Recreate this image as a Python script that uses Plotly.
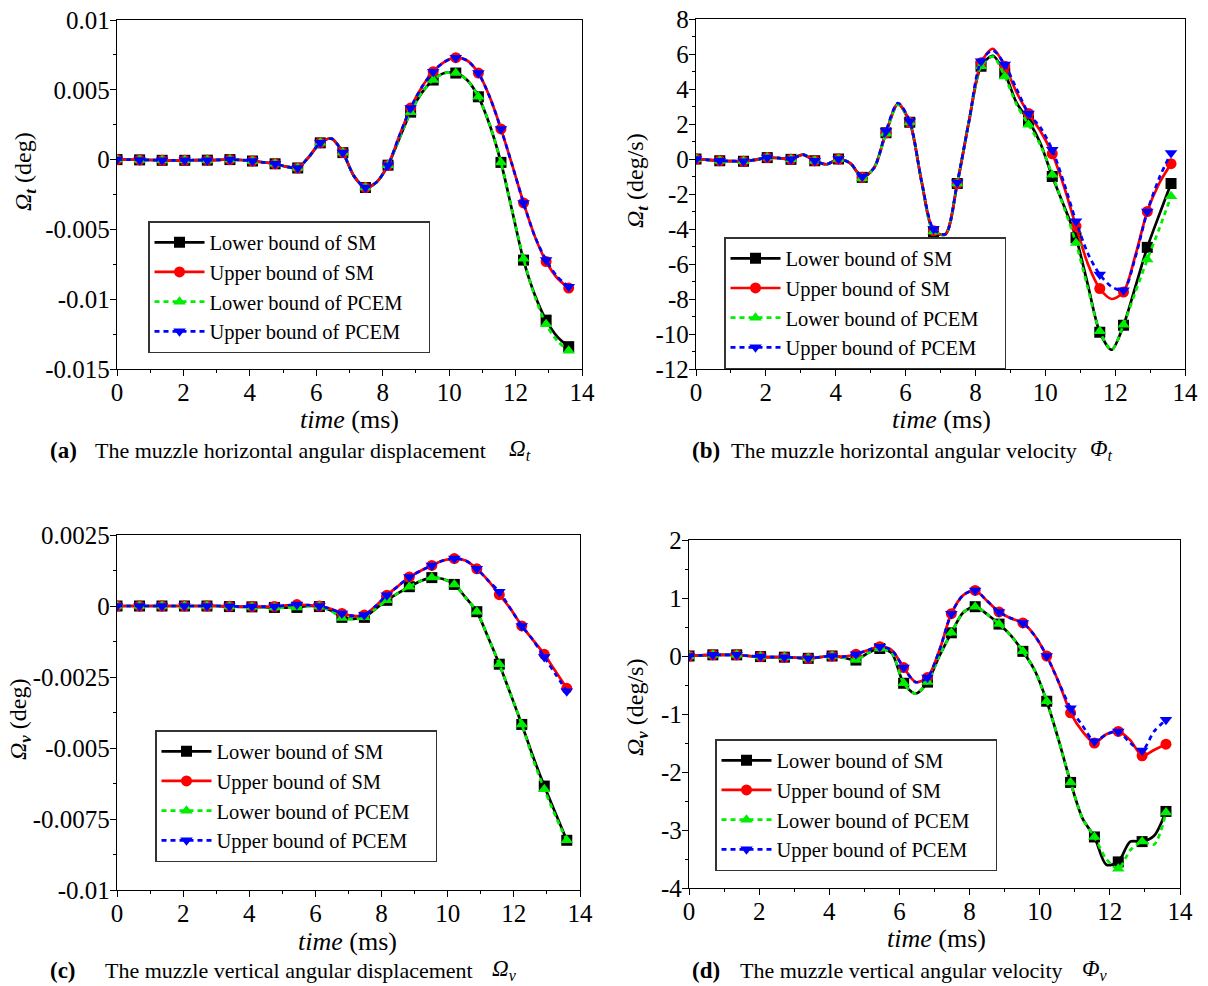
import plotly.graph_objects as go

# ---------------- data ----------------
t = [0.0, 0.34, 0.68, 1.02, 1.36, 1.70, 2.04, 2.38, 2.72, 3.06, 3.40, 3.74, 4.08, 4.42,
     4.76, 5.10, 5.44, 5.78, 6.12, 6.46, 6.80, 7.14, 7.48, 7.82, 8.16, 8.50, 8.84, 9.18,
     9.52, 9.86, 10.20, 10.54, 10.88, 11.22, 11.56, 11.90, 12.24, 12.58, 12.92, 13.26, 13.60]

series_names = ["Lower bound of SM", "Upper bound of SM", "Lower bound of PCEM", "Upper bound of PCEM"]

# (a) muzzle horizontal angular displacement (deg)
a_sm_lo = [0, 0, -0.00002, -0.00003, -0.00005, -0.00005, -0.00005, -0.00004, -0.00004, -0.00002, 0.0,
           -0.00003, -0.0001, -0.0002, -0.0003, -0.0005, -0.0006, 0.0002, 0.0012, 0.0015, 0.0005,
           -0.0012, -0.0020, -0.0016, -0.0004, 0.0015, 0.0034, 0.0048, 0.0057, 0.0062, 0.0062,
           0.0057, 0.0045, 0.0025, -0.0002, -0.0037, -0.0072, -0.0097, -0.0115, -0.0127, -0.0134]
a_sm_up = [0, 0, -0.00002, -0.00003, -0.00005, -0.00005, -0.00005, -0.00004, -0.00004, -0.00002, 0.0,
           -0.00003, -0.0001, -0.0002, -0.0003, -0.0005, -0.0006, 0.0002, 0.0012, 0.0015, 0.0005,
           -0.0012, -0.0020, -0.0016, -0.0004, 0.0017, 0.0037, 0.0052, 0.0063, 0.0070, 0.0073,
           0.0071, 0.0062, 0.0045, 0.0022, -0.0004, -0.0031, -0.0055, -0.0073, -0.0085, -0.0092]
a_pc_lo = [0, 0, -0.00002, -0.00003, -0.00005, -0.00005, -0.00005, -0.00004, -0.00004, -0.00002, 0.0,
           -0.00003, -0.0001, -0.0002, -0.0003, -0.0005, -0.0006, 0.0002, 0.0012, 0.0015, 0.0005,
           -0.0012, -0.0020, -0.0016, -0.0004, 0.0015, 0.0034, 0.0048, 0.0057, 0.0062, 0.0062,
           0.0057, 0.0045, 0.0025, -0.0002, -0.0037, -0.0071, -0.0098, -0.0118, -0.0130, -0.0137]
a_pc_up = [0, 0, -0.00002, -0.00003, -0.00005, -0.00005, -0.00005, -0.00004, -0.00004, -0.00002, 0.0,
           -0.00003, -0.0001, -0.0002, -0.0003, -0.0005, -0.0006, 0.0002, 0.0012, 0.0015, 0.0005,
           -0.0012, -0.0020, -0.0016, -0.0004, 0.0017, 0.0037, 0.0052, 0.0063, 0.0070, 0.0073,
           0.0071, 0.0062, 0.0045, 0.0022, -0.0004, -0.0031, -0.0055, -0.0072, -0.0084, -0.0091]

# (b) muzzle horizontal angular velocity (deg/s)
b_sm_lo = [0, -0.05, -0.1, -0.12, -0.13, -0.05, 0.08, 0.05, -0.02, 0.25, -0.1, -0.3, 0.0, -0.25,
           -1.05, -0.5, 1.5, 3.15, 2.1, -1.3, -4.15, -4.3, -1.4, 2.2, 5.3, 5.9, 4.9, 3.2, 2.2,
           0.9, -1.0, -2.7, -4.5, -7.2, -9.9, -10.9, -9.5, -7.3, -5.05, -3.2, -1.4]
b_sm_up = [0, -0.05, -0.1, -0.12, -0.13, -0.05, 0.08, 0.05, -0.02, 0.25, -0.1, -0.3, 0.0, -0.25,
           -1.05, -0.5, 1.5, 3.15, 2.1, -1.3, -4.1, -4.3, -1.4, 2.2, 5.5, 6.3, 5.3, 3.8, 2.6,
           1.6, 0.3, -1.6, -3.85, -6.0, -7.4, -8.0, -7.6, -5.5, -3.0, -1.4, -0.27]
b_pc_lo = [0, -0.05, -0.1, -0.12, -0.13, -0.05, 0.08, 0.05, -0.02, 0.25, -0.1, -0.3, 0.0, -0.25,
           -1.1, -0.5, 1.45, 3.1, 2.1, -1.3, -4.15, -4.3, -1.4, 2.2, 5.3, 5.85, 4.72, 3.1, 1.96,
           0.8, -0.9, -2.8, -4.8, -7.4, -9.85, -10.9, -9.47, -7.6, -5.75, -4.0, -2.13]
b_pc_up = [0, -0.05, -0.1, -0.12, -0.13, -0.05, 0.08, 0.05, -0.02, 0.25, -0.1, -0.3, 0.0, -0.25,
           -1.0, -0.5, 1.6, 3.2, 2.15, -1.3, -4.0, -4.3, -1.35, 2.2, 5.58, 6.2, 5.4, 4.0, 2.6,
           1.8, 0.53, -1.4, -3.56, -5.4, -6.6, -7.3, -7.5, -5.6, -3.0, -1.1, 0.34]

# (c) muzzle vertical angular displacement (deg)
c_sm_lo = [0, 0, 0, 0, 0, 0, 0, 0, 0, 0, -0.00002, -0.00003, -0.00003, -0.00004, -0.00005,
           -0.00006, -0.00005, 0.0, -0.00002, -0.00015, -0.0004, -0.00045, -0.0004, -0.0001,
           0.0002, 0.00045, 0.00068, 0.00088, 0.001, 0.00095, 0.00076, 0.0003, -0.0002, -0.0011,
           -0.00205, -0.0031, -0.00417, -0.0053, -0.00634, -0.0073, -0.00825]
c_sm_up = [0, 0, 0, 0, 0, 0, 0, 0, 0, 0, -0.00001, -0.00002, -0.00002, -0.00002, -0.00002,
           0.00002, 0.00005, 0.00003, 0.0, -0.0001, -0.00026, -0.00035, -0.00032, 0.0, 0.00038,
           0.0007, 0.00102, 0.00124, 0.00143, 0.0016, 0.00167, 0.0016, 0.00131, 0.0009, 0.0004,
           -0.0001, -0.0007, -0.0012, -0.0017, -0.0023, -0.0029]
c_pc_lo = [0, 0, 0, 0, 0, 0, 0, 0, 0, 0, -0.00002, -0.00003, -0.00003, -0.00004, -0.00005,
           -0.00006, -0.00005, 0.0, -0.00002, -0.00016, -0.00042, -0.00046, -0.0004, -0.0001,
           0.0002, 0.00045, 0.00068, 0.00088, 0.001, 0.00095, 0.00076, 0.0003, -0.0002, -0.0011,
           -0.00205, -0.0031, -0.00417, -0.0054, -0.00645, -0.0074, -0.00825]
c_pc_up = [0, 0, 0, 0, 0, 0, 0, 0, 0, 0, -0.00001, -0.00002, -0.00002, -0.00002, -0.00002,
           0.00002, 0.00005, 0.00003, 0.0, -0.0001, -0.00026, -0.00035, -0.00032, 0.0, 0.00038,
           0.0007, 0.00102, 0.00124, 0.00143, 0.0016, 0.00167, 0.0016, 0.00131, 0.0009, 0.0005,
           -0.0001, -0.0007, -0.0012, -0.0018, -0.0024, -0.0030]

# (d) muzzle vertical angular velocity (deg/s)
d_sm_lo = [0, 0.01, 0.02, 0.02, 0.02, 0.0, -0.01, -0.02, -0.02, -0.03, -0.04, -0.02, 0.0, -0.03,
           -0.07, 0.05, 0.13, 0.05, -0.47, -0.65, -0.45, 0.0, 0.4, 0.75, 0.85, 0.72, 0.55, 0.35,
           0.08, -0.25, -0.78, -1.45, -2.18, -2.8, -3.12, -3.6, -3.55, -3.2, -3.2, -3.1, -2.68]
d_sm_up = [0, 0.01, 0.02, 0.02, 0.02, 0.0, -0.01, -0.02, -0.02, -0.03, -0.04, -0.02, 0.0, -0.01,
           0.03, 0.1, 0.16, 0.1, -0.2, -0.45, -0.37, 0.1, 0.73, 1.05, 1.13, 0.95, 0.76, 0.65,
           0.57, 0.35, 0.0, -0.45, -0.98, -1.3, -1.5, -1.35, -1.3, -1.45, -1.72, -1.62, -1.52]
d_pc_lo = [0, 0.01, 0.02, 0.02, 0.02, 0.0, -0.01, -0.02, -0.02, -0.03, -0.04, -0.02, 0.0, -0.03,
           -0.07, 0.05, 0.13, 0.05, -0.47, -0.65, -0.45, 0.0, 0.4, 0.75, 0.85, 0.72, 0.55, 0.35,
           0.08, -0.25, -0.78, -1.45, -2.18, -2.8, -3.12, -3.5, -3.67, -3.35, -3.2, -3.25, -2.7]
d_pc_up = [0, 0.01, 0.02, 0.02, 0.02, 0.0, -0.01, -0.02, -0.02, -0.03, -0.04, -0.02, 0.0, -0.01,
           0.03, 0.1, 0.16, 0.1, -0.2, -0.45, -0.37, 0.1, 0.73, 1.05, 1.13, 0.95, 0.76, 0.65,
           0.57, 0.35, 0.0, -0.45, -0.9, -1.2, -1.47, -1.35, -1.3, -1.5, -1.63, -1.3, -1.1]

# tick labels
a_yticks = [0.01, 0.005, 0, -0.005, -0.01, -0.015]
a_yticktext = ["0.01", "0.005", "0", "-0.005", "-0.01", "-0.015"]
b_yticks = [8, 6, 4, 2, 0, -2, -4, -6, -8, -10, -12]
b_yticktext = ["8", "6", "4", "2", "0", "-2", "-4", "-6", "-8", "-10", "-12"]
c_yticks = [0.0025, 0, -0.0025, -0.005, -0.0075, -0.01]
c_yticktext = ["0.0025", "0", "-0.0025", "-0.005", "-0.0075", "-0.01"]
d_yticks = [2, 1, 0, -1, -2, -3, -4]
d_yticktext = ["2", "1", "0", "-1", "-2", "-3", "-4"]
x_ticks = [0, 2, 4, 6, 8, 10, 12, 14]

# ---------------- styling ----------------
FONT = "Liberation Serif"
W, H = 1208, 986
colors = ["#000000", "#ff0000", "#00ee00", "#0000ff"]
symbols = ["square", "circle", "triangle-up", "triangle-down"]
dashes = ["solid", "solid", "5px,4px", "5px,4px"]
PAD = "\u00a0\u00a0\u00a0\u00a0"   # right padding inside legend box

panels = [
    dict(data=[a_sm_lo, a_sm_up, a_pc_lo, a_pc_up], yr=[-0.015, 0.01],
         yt=a_yticks, ytt=a_yticktext, ymin=0.0025,
         xd=(117, 582), yd=(20, 369), leg=(148, 221), xt=(349, 419)),
    dict(data=[b_sm_lo, b_sm_up, b_pc_lo, b_pc_up], yr=[-12, 8],
         yt=b_yticks, ytt=b_yticktext, ymin=1,
         xd=(696, 1185), yd=(19, 369), leg=(724, 237), xt=(941, 419)),
    dict(data=[c_sm_lo, c_sm_up, c_pc_lo, c_pc_up], yr=[-0.01, 0.0025],
         yt=c_yticks, ytt=c_yticktext, ymin=0.00125,
         xd=(117, 580), yd=(535, 890), leg=(155, 730), xt=(348, 941)),
    dict(data=[d_sm_lo, d_sm_up, d_pc_lo, d_pc_up], yr=[-4, 2],
         yt=d_yticks, ytt=d_yticktext, ymin=0.5,
         xd=(689, 1180), yd=(540, 888), leg=(715, 739), xt=(936, 938)),
]

fig = go.Figure()
layout = dict(template="none", width=W, height=H,
              margin=dict(l=0, r=0, t=0, b=0, pad=0, autoexpand=False),
              paper_bgcolor="white", plot_bgcolor="white",
              font=dict(family=FONT, color="black"))

mk_idx = list(range(0, len(t), 2))
annotations = []

for i, p in enumerate(panels):
    n = "" if i == 0 else str(i + 1)
    xa, ya = "x" + n, "y" + n
    legname = "legend" + n
    for s in range(4):
        ys = p["data"][s]
        line = dict(color=colors[s], width=2.7, dash=dashes[s], shape="spline", smoothing=0.8)
        fig.add_trace(go.Scatter(x=t, y=ys, mode="lines", line=line, showlegend=False,
                                 xaxis=xa, yaxis=ya, hoverinfo="skip"))
        fig.add_trace(go.Scatter(x=[t[k] for k in mk_idx], y=[ys[k] for k in mk_idx],
                                 mode="markers", showlegend=False, xaxis=xa, yaxis=ya,
                                 marker=dict(symbol=symbols[s], size=11, color=colors[s],
                                             line=dict(width=0))))
        # legend entry
        fig.add_trace(go.Scatter(x=[None], y=[None], mode="lines+markers",
                                 name=series_names[s] + PAD,
                                 line=dict(color=colors[s], width=2.7, dash=dashes[s]),
                                 marker=dict(symbol=symbols[s], size=11, color=colors[s],
                                             line=dict(width=0)),
                                 xaxis=xa, yaxis=ya, legend=legname))
    axis_common = dict(showline=True, linecolor="black", linewidth=1.3, mirror=True,
                       ticks="outside", ticklen=6, tickwidth=1.3, tickcolor="black",
                       showgrid=False, zeroline=False, automargin=False,
                       tickfont=dict(family=FONT, size=25, color="black"))
    layout["xaxis" + n] = dict(axis_common, domain=[p["xd"][0] / W, p["xd"][1] / W],
                               range=[0, 14], tickmode="array", tickvals=x_ticks,
                               anchor=ya, ticklabelstandoff=-5,
                               minor=dict(tickmode="linear", tick0=0, dtick=1, ticks="outside",
                                          ticklen=3, tickwidth=1.2, tickcolor="black"))
    layout["yaxis" + n] = dict(axis_common, domain=[1 - p["yd"][1] / H, 1 - p["yd"][0] / H],
                               range=p["yr"], tickmode="array", tickvals=p["yt"],
                               ticktext=p["ytt"], anchor=xa, ticklabelstandoff=-5,
                               minor=dict(tickmode="linear", tick0=0, dtick=p["ymin"],
                                          ticks="outside", ticklen=3, tickwidth=1.2,
                                          tickcolor="black"))
    layout[legname] = dict(x=p["leg"][0] / W, y=1 - p["leg"][1] / H, xanchor="left",
                           yanchor="top", bgcolor="white", bordercolor="#333333",
                           borderwidth=1.5, itemwidth=50, tracegroupgap=0,
                           font=dict(family=FONT, size=20.5, color="black"))
    # x-axis title
    annotations.append(dict(text="<i>time</i> (ms)", x=p["xt"][0] / W, y=1 - p["xt"][1] / H,
                            xref="paper", yref="paper", showarrow=False,
                            xanchor="center", yanchor="middle",
                            font=dict(family=FONT, size=26, color="black")))

fig.update_layout(**layout)

# y-axis titles
ytitles = [("<i>Ω<sub><b>t</b></sub></i> (deg)", 25, 172),
           ("<i>Ω<sub><b>t</b></sub></i> (deg/s)", 637, 181),
           ("<i>Ω<sub><b>v</b></sub></i> (deg)", 20, 720),
           ("<i>Ω<sub><b>v</b></sub></i> (deg/s)", 637, 708)]
for txt, px, py in ytitles:
    annotations.append(dict(text=txt, x=px / W, y=1 - py / H, xref="paper", yref="paper",
                            showarrow=False, textangle=-90, xanchor="center", yanchor="middle",
                            font=dict(family=FONT, size=24, color="black")))

captions = [
    ("<b>(a)</b>", 48, 450, 23), ("The muzzle horizontal angular displacement", 93, 450, 22),
    ("<i>Ω<sub>t</sub></i>", 507, 450, 23),
    ("<b>(b)</b>", 690, 450, 23), ("The muzzle horizontal angular velocity", 729, 450, 22),
    ("<i>Φ<sub>t</sub></i>", 1088, 450, 23),
    ("<b>(c)</b>", 48, 970, 23), ("The muzzle vertical angular displacement", 103, 970, 22),
    ("<i>Ω<sub>v</sub></i>", 490, 970, 23),
    ("<b>(d)</b>", 690, 970, 23), ("The muzzle vertical angular velocity", 738, 970, 22),
    ("<i>Φ<sub>v</sub></i>", 1080, 970, 23),
]
for txt, px, py, fs in captions:
    annotations.append(dict(text=txt, x=px / W, y=1 - py / H, xref="paper", yref="paper",
                            showarrow=False, xanchor="left", yanchor="middle",
                            font=dict(family=FONT, size=fs, color="black")))

fig.update_layout(annotations=annotations)
fig.write_html("out.html", config={"displayModeBar": False},
               post_script="document.body.style.margin='0';document.body.style.overflow='hidden';")
